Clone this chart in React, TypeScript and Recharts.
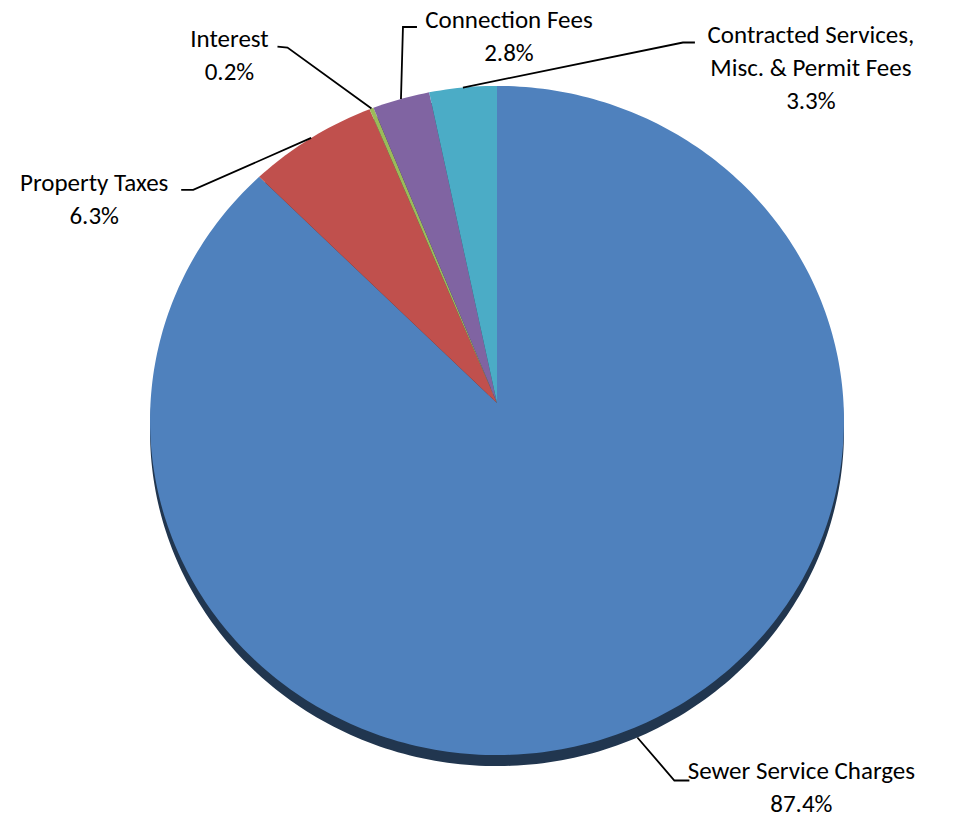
import { PieChart, Pie } from "recharts";

const CATEGORIES = [
  "Sewer Service Charges",
  "Property Taxes",
  "Interest",
  "Connection Fees",
  "Contracted Services,\nMisc. & Permit Fees",
];
const SHARES = [87.4, 6.3, 0.2, 2.8, 3.3];
const COLORS = ["#4f81bd", "#c0504d", "#9bbb59", "#8064a2", "#4bacc6"];

const data = CATEGORIES.map((name, i) => ({ name, value: SHARES[i] }));

// tilted face: vertical squash plus a little perspective (near edge larger)
const TILT = 0.963;
const PERSPECTIVE = 0.0523;
const DEPTH = 11;

const FONT = "Carlito, Lato, 'Open Sans', sans-serif";
const FONT_SIZE = 25;
const LINE_GAP = 33;

// leader line and text placement relative to the slice's outer midpoint
const LABEL_LAYOUT = [
  { elbow: [37, 43], tail: [52, 43], text: [164, 42] },
  { elbow: [-118, 52], tail: [-130, 52], text: [-217, 53] },
  { elbow: [-84, -61], tail: [-94, -62], text: [-142, -62] },
  { elbow: [2, -72], tail: [16, -72], text: [108, -71] },
  { elbow: [220, -45], tail: [232, -45], text: [348, -45] },
];

function project(cx: number, cy: number, r: number, angleDeg: number) {
  const a = (angleDeg * Math.PI) / 180;
  const u = Math.cos(a);
  const v = -Math.sin(a);
  const d = 1 - PERSPECTIVE * v;
  return [cx + (r * u) / d, cy + (r * TILT * v) / d];
}

function sectorPath(cx: number, cy: number, r: number, start: number, end: number, shift = 0) {
  const steps = Math.max(2, Math.ceil(Math.abs(end - start)));
  let d = `M${cx},${cy + shift}`;
  for (let i = 0; i <= steps; i++) {
    const [x, y] = project(cx, cy, r, start + ((end - start) * i) / steps);
    d += `L${x.toFixed(2)},${(y + shift).toFixed(2)}`;
  }
  return d + "Z";
}

function darken(hex: string, k: number) {
  const n = parseInt(hex.slice(1), 16);
  const c = [(n >> 16) & 255, (n >> 8) & 255, n & 255].map((v) => Math.round(v * k));
  return `rgb(${c.join(",")})`;
}

function FaceShape(props: any) {
  const { cx, cy, outerRadius, startAngle, endAngle, index } = props;
  return <path d={sectorPath(cx, cy, outerRadius, startAngle, endAngle)} fill={COLORS[index]} stroke="none" />;
}

function SideShape(props: any) {
  const { cx, cy, outerRadius, startAngle, endAngle, index } = props;
  return (
    <path
      d={sectorPath(cx, cy, outerRadius, startAngle, endAngle, DEPTH)}
      fill={darken(COLORS[index], 0.42)}
      stroke="none"
    />
  );
}

function renderLabel(props: any) {
  const { cx, cy, midAngle, outerRadius, index, payload, value } = props;
  const [ax, ay0] = project(cx, cy, outerRadius, midAngle);
  const ay = ay0 > cy ? ay0 + DEPTH : ay0;
  const lay = LABEL_LAYOUT[index];
  const lines = String(payload.name).split("\n");
  const tx = ax + lay.text[0];
  const ty = ay + lay.text[1];
  return (
    <g key={`label-${index}`}>
      <polyline
        points={`${ax},${ay} ${ax + lay.elbow[0]},${ay + lay.elbow[1]} ${ax + lay.tail[0]},${ay + lay.tail[1]}`}
        fill="none"
        stroke="#000"
        strokeWidth={1.8}
      />
      <text x={tx} y={ty} textAnchor="middle" fontFamily={FONT} fontSize={FONT_SIZE} fill="#000">
        {lines.map((l, i) => (
          <tspan key={i} x={tx} dy={i === 0 ? 0 : LINE_GAP}>
            {l}
          </tspan>
        ))}
        <tspan x={tx} dy={LINE_GAP}>{`${Number(value).toFixed(1)}%`}</tspan>
      </text>
    </g>
  );
}

export default function App() {
  return (
    <div style={{ position: "absolute", left: 0, top: 0, width: 955, height: 817, background: "#fff" }}>
      <PieChart width={955} height={817} margin={{ top: 0, right: 0, bottom: 0, left: 0 }}>
        <Pie
          data={data}
          dataKey="value"
          nameKey="name"
          cx={497}
          cy={403}
          outerRadius={346.5}
          startAngle={90}
          endAngle={-270}
          stroke="none"
          shape={SideShape}
          label={false}
          labelLine={false}
          isAnimationActive={false}
        />
        <Pie
          data={data}
          dataKey="value"
          nameKey="name"
          cx={497}
          cy={403}
          outerRadius={346.5}
          startAngle={90}
          endAngle={-270}
          stroke="none"
          shape={FaceShape}
          label={renderLabel}
          labelLine={false}
          isAnimationActive={false}
        />
      </PieChart>
    </div>
  );
}
